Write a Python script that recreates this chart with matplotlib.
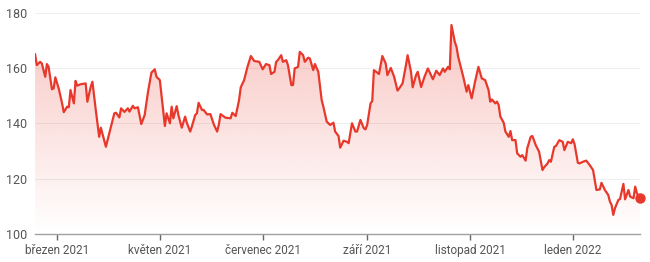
import numpy as np
import pandas as pd
import matplotlib
matplotlib.use("Agg")
import matplotlib.pyplot as plt
import matplotlib.dates as mdates

plt.rcParams['font.family'] = ['Roboto', 'DejaVu Sans']

# days since 1 March 2021, and closing price
days = [-13, -12, -10, -9, -8, -7, -6, -5, -3, -2, -1, 1, 3, 4, 6, 7, 8, 10, 11, 12,
        14, 17, 18, 20, 21, 23, 25, 26, 29, 31, 34, 35, 37, 38, 40, 42, 43, 45, 46, 48,
        50, 52, 54, 56, 58, 59, 61, 64, 65, 67, 68, 69, 71, 72, 74, 76, 77, 79, 80, 82,
        83, 84, 86, 87, 89, 91, 93, 95, 96, 97, 100, 103, 104, 106, 108, 109, 111, 113, 115, 117,
        120, 122, 124, 126, 127, 129, 130, 131, 133, 134, 136, 137, 139, 140, 141, 143, 144, 146, 147, 149,
        150, 152, 153, 155, 157, 158, 160, 162, 164, 165, 167, 168, 170, 172, 173, 175, 177, 178, 180, 182,
        183, 184, 186, 187, 188, 190, 191, 193, 195, 196, 198, 200, 202, 203, 205, 207, 208, 210, 211, 213,
        214, 216, 218, 220, 223, 225, 227, 229, 230, 232, 233, 234, 236, 237, 238, 240, 241, 243, 244, 246,
        248, 250, 252, 254, 256, 257, 258, 260, 261, 262, 263, 265, 266, 268, 269, 270, 272, 273, 275, 276,
        278, 279, 281, 282, 284, 286, 288, 289, 291, 292, 293, 295, 296, 298, 300, 301, 303, 305, 306, 307,
        309, 310, 312, 314, 316, 318, 320, 322, 323, 325, 327, 328, 329, 330, 331, 333, 334, 336, 337, 339,
        340, 342, 343, 344, 346]
price = [164.9, 161.0, 162.2, 161.6, 159.2, 156.8, 161.4, 160.4, 152.3, 152.6, 156.6, 152.6, 147.2, 144.0, 146.0, 145.8, 152.0, 147.2, 155.3, 153.6,
         154.1, 154.4, 147.8, 153.2, 155.0, 144.8, 135.1, 138.4, 131.5, 136.4, 143.6, 143.8, 142.1, 145.4, 144.1, 145.4, 144.2, 146.3, 145.4, 145.8,
         139.7, 143.0, 151.4, 158.3, 159.5, 156.8, 155.6, 139.0, 143.6, 140.0, 146.0, 141.8, 146.2, 143.0, 138.4, 142.4, 140.2, 137.0, 138.8, 143.0,
         143.6, 147.4, 144.8, 144.8, 143.2, 143.3, 139.6, 137.0, 139.5, 143.3, 142.0, 141.8, 143.8, 142.6, 148.4, 153.0, 155.6, 160.4, 164.3, 162.5,
         162.2, 159.5, 161.4, 161.0, 157.8, 158.6, 162.2, 162.8, 164.6, 162.2, 162.8, 161.0, 153.8, 153.8, 159.8, 160.4, 165.8, 164.6, 162.2, 163.7,
         163.4, 159.2, 161.4, 158.6, 148.4, 146.0, 140.6, 139.4, 140.2, 137.0, 135.4, 131.2, 133.7, 133.3, 132.8, 140.0, 137.0, 137.0, 141.2, 138.2,
         137.8, 139.4, 147.2, 148.0, 159.2, 158.3, 157.8, 164.3, 161.6, 157.4, 160.0, 156.8, 151.8, 152.6, 154.4, 161.0, 164.6, 158.6, 153.0, 157.4,
         158.6, 153.1, 156.8, 159.8, 155.9, 159.0, 157.4, 159.8, 158.6, 160.4, 159.5, 175.5, 169.4, 167.6, 164.0, 159.2, 156.8, 151.4, 153.8, 149.0,
         155.0, 160.4, 156.2, 155.6, 152.0, 147.8, 148.6, 147.2, 147.8, 146.6, 142.4, 140.2, 137.0, 135.1, 137.2, 133.9, 133.9, 129.1, 127.9, 128.5,
         126.5, 131.0, 135.1, 135.4, 132.1, 129.7, 123.1, 124.1, 125.5, 126.7, 126.1, 131.5, 131.8, 133.9, 133.3, 130.3, 133.3, 132.8, 134.2, 132.5,
         125.7, 125.5, 126.1, 126.5, 124.9, 123.1, 115.9, 116.1, 118.5, 115.9, 114.1, 111.7, 110.5, 106.9, 109.3, 112.3, 112.6, 118.1, 112.5, 115.9,
         113.5, 112.9, 117.1, 114.7, 112.9]

tick_dates = ['2021-03-01', '2021-05-01', '2021-07-01', '2021-09-01', '2021-11-01', '2022-01-01']
tick_labels = ['březen 2021', 'květen 2021', 'červenec 2021', 'září 2021', 'listopad 2021', 'leden 2022']
y_ticks = [100, 120, 140, 160, 180]

red = '#e8382b'
grey_text = '#555555'

dates = pd.Timestamp('2021-03-01') + pd.to_timedelta(days, unit='D')
x = mdates.date2num(dates)

fig = plt.figure(figsize=(6.5, 2.62), dpi=100)
ax = fig.add_axes([0.054, 0.107, 0.931, 0.845])

ymin, ymax = 100, 180
ax.set_xlim(x[0], x[-1])
ax.set_ylim(ymin, ymax)

# gradient fill under the line
fill = ax.fill_between(x, price, ymin, color='none', lw=0)
grad = np.zeros((256, 1, 4))
grad[:, :, :3] = matplotlib.colors.to_rgb(red)
grad[:, 0, 3] = np.linspace(0.0, 0.3, 256)
im = ax.imshow(grad, extent=[x[0], x[-1], ymin, ymax], origin='lower',
               aspect='auto', zorder=1, interpolation='bilinear')
path = fill.get_paths()[0]
im.set_clip_path(path, transform=ax.transData)

ax.plot(x, price, color=red, lw=1.6, zorder=3, solid_joinstyle='round')
ax.plot(x[-1], price[-1], 'o', color=red, ms=6.5, zorder=4, clip_on=False)

for yv in y_ticks[1:]:
    ax.axhline(yv, color='#eeeeee', lw=0.8, zorder=0)

ax.set_yticks(y_ticks)
ax.set_xticks(mdates.date2num(pd.to_datetime(tick_dates)))
ax.set_xticklabels(tick_labels)
ax.tick_params(axis='y', length=0, pad=6, labelsize=9, labelcolor=grey_text)
ax.tick_params(axis='x', length=4, width=1, color='#666666', pad=3,
               labelsize=8.5, labelcolor=grey_text)

for s in ['top', 'right', 'left']:
    ax.spines[s].set_visible(False)
ax.spines['bottom'].set_color('#a0a0a0')
ax.spines['bottom'].set_linewidth(1)

fig.savefig('out.png', dpi=100)
